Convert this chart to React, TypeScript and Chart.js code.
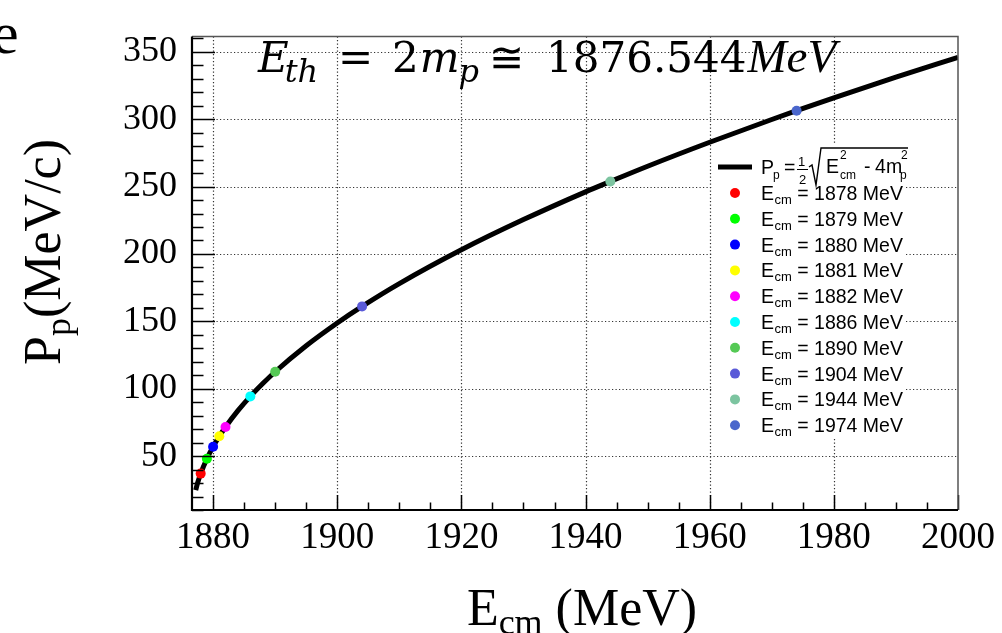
import React, { useEffect, useRef } from 'react';
import { Chart, registerables } from 'chart.js';

Chart.register(...registerables);

// Curve P_p(E_cm)
const curveE = [1877.2, 1877.5, 1878, 1879, 1880, 1881, 1882, 1884, 1886, 1888, 1890, 1895, 1900, 1904, 1910, 1920, 1930, 1940, 1944, 1950, 1960, 1970, 1974, 1980, 1990, 2000];
const curveP = [24.8, 30.0, 37.0, 48.0, 57.0, 64.7, 71.6, 83.7, 94.3, 103.8, 112.6, 131.9, 148.8, 161.1, 178.0, 203.1, 225.5, 246.1, 253.8, 265.1, 282.9, 299.8, 306.3, 315.8, 331.2, 345.9];

// Marked energies
const pointE = [1878, 1879, 1880, 1881, 1882, 1886, 1890, 1904, 1944, 1974];
const pointP = [37.0, 48.0, 57.0, 64.7, 71.6, 94.3, 112.6, 161.1, 253.8, 306.3];
const pointColors = ['#ff0000', '#00ff00', '#0000ff', '#ffff00', '#ff00ff', '#00ffff', '#55c955', '#5a5ad8', '#7cc4a0', '#4a66cc'];

const xTickLabels = [1880, 1900, 1920, 1940, 1960, 1980, 2000];
const yTickLabels = [50, 100, 150, 200, 250, 300, 350];

const X_MIN = 1876.6;
const X_MAX = 2000;
const Y_MIN = 10;
const Y_MAX = 361.3;

const SERIF = '"Liberation Serif", "Times New Roman", serif';
const MATH = '"DejaVu Serif", serif';
const SANS = '"Liberation Sans", Arial, sans-serif';

function txt(ctx: CanvasRenderingContext2D, s: string, x: number, y: number, font: string): number {
  ctx.font = font;
  ctx.fillText(s, x, y);
  return x + ctx.measureText(s).width;
}

const decorPlugin = {
  id: 'decor',
  beforeDatasetsDraw(chart: any) {
    const ctx: CanvasRenderingContext2D = chart.ctx;
    const { left, right, top, bottom } = chart.chartArea;
    const xs = chart.scales.x;
    const ys = chart.scales.y;
    ctx.save();
    ctx.strokeStyle = '#333';
    ctx.lineWidth = 1.2;
    ctx.setLineDash([1.2, 2.3]);
    ctx.beginPath();
    for (const v of xTickLabels) {
      if (v >= X_MAX) continue;
      const x = Math.round(xs.getPixelForValue(v)) + 0.5;
      ctx.moveTo(x, top);
      ctx.lineTo(x, bottom);
    }
    for (const v of yTickLabels) {
      const y = Math.round(ys.getPixelForValue(v)) + 0.5;
      ctx.moveTo(left, y);
      ctx.lineTo(right, y);
    }
    ctx.stroke();
    ctx.restore();
  },
  afterDatasetsDraw(chart: any) {
    const ctx: CanvasRenderingContext2D = chart.ctx;
    const { left, right, top, bottom } = chart.chartArea;
    const xs = chart.scales.x;
    const ys = chart.scales.y;
    ctx.save();
    ctx.setLineDash([]);
    // ticks
    ctx.strokeStyle = '#000';
    ctx.lineWidth = 1.5;
    ctx.beginPath();
    for (let v = 10; v <= 360; v += 10) {
      const y = Math.round(ys.getPixelForValue(v)) + 0.5;
      const len = v % 50 === 0 ? 23 : 11.5;
      ctx.moveTo(left, y);
      ctx.lineTo(left + len, y);
    }
    for (let v = 1880; v <= 2000; v += 5) {
      const x = Math.round(xs.getPixelForValue(v)) + 0.5;
      const len = v % 20 === 0 ? 15 : 7.5;
      ctx.moveTo(x, bottom);
      ctx.lineTo(x, bottom - len);
    }
    ctx.stroke();
    // frame
    ctx.strokeStyle = '#555';
    ctx.lineWidth = 1.5;
    ctx.beginPath();
    ctx.moveTo(left, top);
    ctx.lineTo(right, top);
    ctx.lineTo(right, bottom);
    ctx.stroke();
    ctx.strokeStyle = '#000';
    ctx.lineWidth = 2.2;
    ctx.beginPath();
    ctx.moveTo(left, top);
    ctx.lineTo(left, bottom);
    ctx.lineTo(right, bottom);
    ctx.stroke();

    // legend
    ctx.fillStyle = '#fff';
    ctx.fillRect(712, 145, 194, 293);
    ctx.fillStyle = '#000';
    ctx.textBaseline = 'alphabetic';
    ctx.textAlign = 'left';
    ctx.strokeStyle = '#000';
    ctx.lineWidth = 5;
    ctx.beginPath();
    ctx.moveTo(718, 167);
    ctx.lineTo(752, 167);
    ctx.stroke();
    const big = `19.5px ${SANS}`;
    const small = `12px ${SANS}`;
    txt(ctx, 'P', 761, 174, big);
    txt(ctx, 'p', 773, 179, small);
    txt(ctx, '=', 784, 174, big);
    txt(ctx, '1', 798, 166, `13px ${SANS}`);
    txt(ctx, '2', 799, 184, `13px ${SANS}`);
    ctx.lineWidth = 1;
    ctx.beginPath();
    ctx.moveTo(797, 169.5);
    ctx.lineTo(808, 169.5);
    ctx.stroke();
    ctx.lineWidth = 1.4;
    ctx.beginPath();
    ctx.moveTo(809, 167);
    ctx.lineTo(812, 165);
    ctx.lineTo(816, 185);
    ctx.lineTo(821, 148);
    ctx.lineTo(908, 148);
    ctx.stroke();
    txt(ctx, 'E', 826, 173, big);
    txt(ctx, '2', 840, 159, small);
    txt(ctx, 'cm', 840, 179, small);
    txt(ctx, '-', 864, 173, big);
    txt(ctx, '4', 875, 173, big);
    txt(ctx, 'm', 886, 173, big);
    txt(ctx, '2', 901, 159, small);
    txt(ctx, 'p', 900, 179, small);

    for (let i = 0; i < pointE.length; i++) {
      const cy = 193 + i * 25.8;
      ctx.fillStyle = pointColors[i];
      ctx.beginPath();
      ctx.arc(735, cy, 5, 0, Math.PI * 2);
      ctx.fill();
      ctx.fillStyle = '#000';
      let x = txt(ctx, 'E', 761, cy + 7, big);
      x = txt(ctx, 'cm', x + 0.5, cy + 11, `13px ${SANS}`);
      txt(ctx, ` = ${pointE[i]} MeV`, x, cy + 7, big);
    }
    ctx.restore();
  },
  afterDraw(chart: any) {
    const ctx: CanvasRenderingContext2D = chart.ctx;
    ctx.save();
    ctx.fillStyle = '#000';
    ctx.textBaseline = 'alphabetic';
    ctx.textAlign = 'left';
    // cropped word fragment at top-left
    txt(ctx, 'e', -8, 53, `60px ${SERIF}`);

    // threshold formula
    const it = `italic 42px ${MATH}`;
    const up = `42px ${MATH}`;
    const itSub = `italic 32px ${MATH}`;
    let x = txt(ctx, 'E', 258, 72, it);
    txt(ctx, 'th', x - 4, 82, itSub);
    txt(ctx, '=', 338, 72, up);
    x = txt(ctx, '2', 392, 72, up);
    x = txt(ctx, 'm', x + 1, 72, it);
    txt(ctx, 'p', x - 1, 82, itSub);
    txt(ctx, '≅', 489, 72, up);
    x = txt(ctx, '1876.544', 546, 72, up);
    txt(ctx, 'MeV', x + 1, 72, `italic 47px ${SERIF}`);

    // x-axis title
    {
      const f1 = `52px ${SERIF}`;
      const f2 = `36px ${SERIF}`;
      ctx.font = f1;
      const wE = ctx.measureText('E').width;
      const wR = ctx.measureText(' (MeV)').width;
      ctx.font = f2;
      const wS = ctx.measureText('cm').width;
      const total = wE + wS + wR;
      let xx = 582 - total / 2;
      xx = txt(ctx, 'E', xx, 625, f1);
      xx = txt(ctx, 'cm', xx, 634, f2);
      txt(ctx, ' (MeV)', xx, 625, f1);
    }
    // y-axis title
    {
      const f1 = `52px ${SERIF}`;
      const f2 = `36px ${SERIF}`;
      ctx.translate(60, 252);
      ctx.rotate(-Math.PI / 2);
      ctx.font = f1;
      const wP = ctx.measureText('P').width;
      const wR = ctx.measureText('(MeV/c)').width;
      ctx.font = f2;
      const wS = ctx.measureText('p').width;
      const total = wP + wS + wR;
      let xx = -total / 2;
      xx = txt(ctx, 'P', xx, 0, f1);
      xx = txt(ctx, 'p', xx, 10, f2);
      txt(ctx, '(MeV/c)', xx, 0, f1);
    }
    ctx.restore();
  },
};

export default function App() {
  const ref = useRef<HTMLCanvasElement | null>(null);
  useEffect(() => {
    document.body.style.margin = '0';
    const canvas = ref.current;
    if (!canvas) return;
    const pointSets = pointE.map((e, i) => ({
      label: `E_cm = ${e} MeV`,
      data: [{ x: e, y: pointP[i] }],
      backgroundColor: pointColors[i],
      borderWidth: 0,
      pointRadius: 5,
      showLine: false,
      order: 0,
    }));
    const chart = new Chart(canvas, {
      type: 'scatter',
      data: {
        datasets: [
          ...pointSets,
          {
            label: 'P_p',
            data: curveE.map((e, i) => ({ x: e, y: curveP[i] })),
            borderColor: '#000',
            backgroundColor: '#000',
            borderWidth: 5,
            pointRadius: 0,
            showLine: true,
            cubicInterpolationMode: 'monotone',
            order: 1,
          } as any,
        ],
      },
      options: {
        responsive: false,
        animation: false,
        devicePixelRatio: 1,
        layout: { padding: { top: 12, right: 44, left: 0, bottom: 0 } },
        plugins: { legend: { display: false }, tooltip: { enabled: false } },
        events: [],
        scales: {
          x: {
            type: 'linear',
            min: X_MIN,
            max: X_MAX,
            grid: { display: false, drawTicks: false },
            border: { display: false },
            afterBuildTicks: (s: any) => {
              s.ticks = xTickLabels.map((v) => ({ value: v }));
            },
            afterFit: (s: any) => {
              s.height = 123;
            },
            ticks: {
              autoSkip: false,
              maxRotation: 0,
              padding: 6,
              color: '#000',
              font: { family: SERIF, size: 37 },
              callback: (v: any) => String(v),
            },
          },
          y: {
            type: 'linear',
            min: Y_MIN,
            max: Y_MAX,
            grid: { display: false, drawTicks: false },
            border: { display: false },
            afterBuildTicks: (s: any) => {
              s.ticks = yTickLabels.map((v) => ({ value: v }));
            },
            afterFit: (s: any) => {
              s.width = 192;
            },
            ticks: {
              autoSkip: false,
              padding: 15,
              color: '#000',
              font: { family: SERIF, size: 36 },
              callback: (v: any) => String(v),
            },
          },
        },
      },
      plugins: [decorPlugin],
    });
    return () => chart.destroy();
  }, []);
  return (
    <div style={{ position: 'absolute', left: 0, top: 0, width: 1002, height: 633, background: '#fff' }}>
      <canvas ref={ref} width={1002} height={633} style={{ display: 'block' }} />
    </div>
  );
}
